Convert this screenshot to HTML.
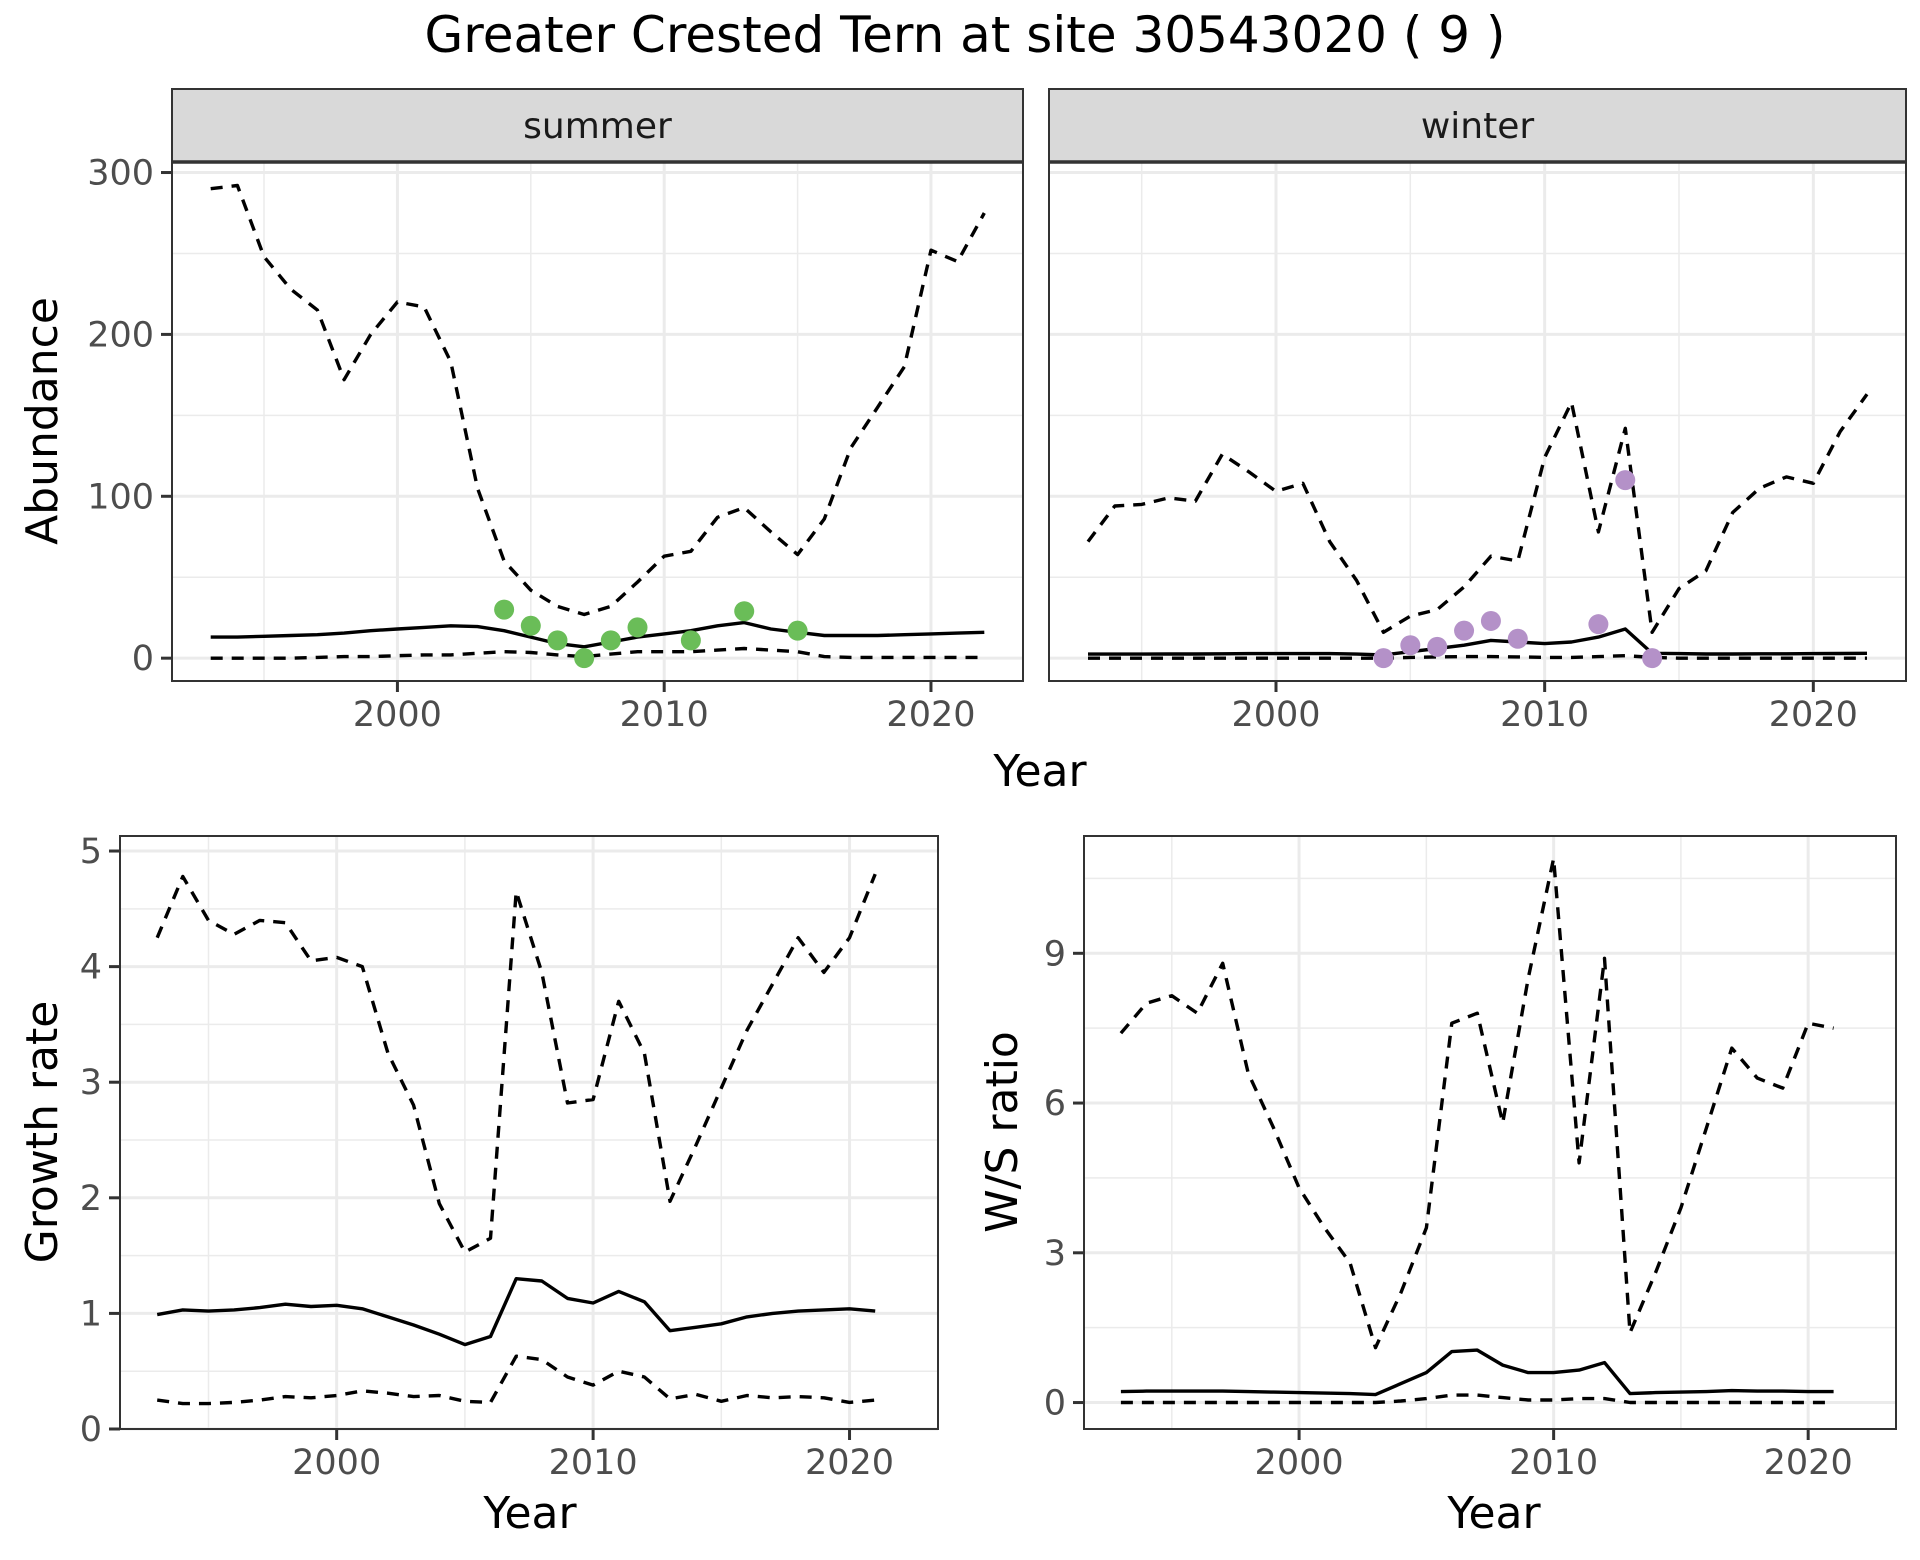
<!DOCTYPE html>
<html><head><meta charset="utf-8"><style>
body{margin:0;background:#fff;}
svg{display:block;font-family:"DejaVu Sans","Liberation Sans",sans-serif;}
</style></head><body>
<svg id="chart" width="1920" height="1560" viewBox="0 0 1920 1560" xmlns="http://www.w3.org/2000/svg">
<text x="965" y="52" font-size="50" text-anchor="middle" fill="#000">Greater Crested Tern at site 30543020 ( 9 )</text>
</svg>
<script>
const yearsA = [1993,1994,1995,1996,1997,1998,1999,2000,2001,2002,2003,2004,2005,2006,2007,2008,2009,2010,2011,2012,2013,2014,2015,2016,2017,2018,2019,2020,2021,2022];
const summerUpper = [290,292,248,228,215,172,200,220,217,183,105,60,42,32,27,32,47,63,66,87,93,78,64,86,130,155,180,252,245,275];
const summerMean = [13,13,13.5,14,14.5,15.5,17,18,19,20,19.5,17,13,9,7,10,13,15,17,20,22,18,16,14,14,14,14.5,15,15.5,16];
const summerLower = [0,0,0,0,0.5,1,1,1.5,2,2,3,4,3.5,2,1,2.5,4,4,4,5,6,5,4,1,0.5,0.5,0.5,0.5,0.5,0.5];
const summerObsYears = [2004,2005,2006,2007,2008,2009,2011,2013,2015];
const summerObs = [30,20,11,0,11,19,11,29,17];
const winterUpper = [72,94,95,99,97,126,115,103,108,72,48,16,26,30,44,63,60,124,158,78,142,16,43,54,90,105,112,108,140,163];
const winterMean = [2.5,2.5,2.5,2.6,2.6,2.7,2.8,2.8,2.8,2.8,2.5,2,4,6,8,11,10,9,10,13,18,3,2.8,2.6,2.6,2.7,2.7,2.8,2.9,3];
const winterLower = [0,0,0,0,0,0,0,0,0,0,0,0,0.5,0.8,1,1,0.8,0.5,0.5,1,1.5,0.5,0,0,0,0,0,0,0,0];
const winterObsYears = [2004,2005,2006,2007,2008,2009,2012,2013,2014];
const winterObs = [0,8,7,17,23,12,21,110,0];
const yearsB = [1993,1994,1995,1996,1997,1998,1999,2000,2001,2002,2003,2004,2005,2006,2007,2008,2009,2010,2011,2012,2013,2014,2015,2016,2017,2018,2019,2020,2021];
const growthUpper = [4.25,4.78,4.4,4.28,4.4,4.38,4.05,4.08,4.0,3.25,2.8,1.95,1.53,1.65,4.65,3.95,2.82,2.85,3.7,3.25,1.97,2.45,2.95,3.45,3.85,4.25,3.95,4.25,4.8];
const growthMean = [0.99,1.03,1.02,1.03,1.05,1.08,1.06,1.07,1.04,0.97,0.9,0.82,0.73,0.8,1.3,1.28,1.13,1.09,1.19,1.1,0.85,0.88,0.91,0.97,1.0,1.02,1.03,1.04,1.02];
const growthLower = [0.25,0.22,0.22,0.23,0.25,0.28,0.27,0.29,0.33,0.31,0.28,0.29,0.24,0.23,0.63,0.6,0.45,0.38,0.5,0.45,0.26,0.3,0.24,0.29,0.27,0.28,0.27,0.23,0.25];
const ratioUpper = [7.4,8.0,8.15,7.8,8.8,6.6,5.5,4.3,3.5,2.8,1.1,2.2,3.5,7.6,7.8,5.6,8.5,10.9,4.8,8.9,1.4,2.6,3.9,5.5,7.1,6.5,6.3,7.6,7.5];
const ratioMean = [0.22,0.23,0.23,0.23,0.23,0.22,0.21,0.2,0.19,0.18,0.16,0.38,0.6,1.02,1.05,0.75,0.6,0.6,0.65,0.8,0.18,0.2,0.21,0.22,0.24,0.23,0.23,0.22,0.22];
const ratioLower = [0,0,0,0,0,0,0,0,0,0,0,0.03,0.08,0.15,0.15,0.1,0.05,0.05,0.08,0.08,0,0,0,0,0,0,0,0,0];
const xTicks = [2000,2010,2020];
const abundTicks = [0,100,200,300];
const growthTicks = [0,1,2,3,4,5];
const ratioTicks = [0,3,6,9];

const NS="http://www.w3.org/2000/svg";
const svg=document.getElementById('chart');
function mk(tag,attrs,parent){const e=document.createElementNS(NS,tag);for(const k in attrs)e.setAttribute(k,attrs[k]);(parent||svg).appendChild(e);return e;}

function panel(cfg){
  const {L,R,T,B,x0,x1,y0,y1,xMinor,yMinor,xMaj,yMaj,name,showY}=cfg;
  const sx=v=>L+(v-x0)/(x1-x0)*(R-L);
  const sy=v=>B-(v-y0)/(y1-y0)*(B-T);
  const g=mk('g',{});
  
  
  const cid='clip-'+name;
  const cp=mk('clipPath',{id:cid},g);mk('rect',{x:L,y:T,width:R-L,height:B-T},cp);
  xMinor.forEach(v=>{const l=mk('line',{x1:sx(v),x2:sx(v),y1:T,y2:B,stroke:'#EBEBEB','stroke-width':1.5},g);});
  yMinor.forEach(v=>{const l=mk('line',{x1:L,x2:R,y1:sy(v),y2:sy(v),stroke:'#EBEBEB','stroke-width':1.5},g);});
  xMaj.forEach(v=>{const l=mk('line',{x1:sx(v),x2:sx(v),y1:T,y2:B,stroke:'#EBEBEB','stroke-width':3},g);});
  yMaj.forEach(v=>{const l=mk('line',{x1:L,x2:R,y1:sy(v),y2:sy(v),stroke:'#EBEBEB','stroke-width':3},g);});
  const dg=mk('g',{'clip-path':'url(#'+cid+')'},g);
  cfg.series.forEach(s=>{
    const d=s.xs.map((x,i)=>(i?'L':'M')+sx(x).toFixed(1)+' '+sy(s.ys[i]).toFixed(1)).join(' ');
    const p=mk('path',{d:d,fill:'none',stroke:'#000','stroke-width':3.4,'stroke-dasharray':s.dash?'12 9':'none','stroke-linejoin':'round'},dg);
    
    
  });
  if(cfg.points){cfg.points.xs.forEach((x,i)=>{
    const c=mk('circle',{cx:sx(x),cy:sy(cfg.points.ys[i]),r:10,fill:cfg.points.color},dg);
    
    
  });}
  const bd=mk('rect',{x:L,y:T,width:R-L,height:B-T,fill:'none',stroke:'#333','stroke-width':2},g);
  
  xMaj.forEach(v=>{
    mk('line',{x1:sx(v),x2:sx(v),y1:B,y2:B+11,stroke:'#333','stroke-width':3},g);
    const t=mk('text',{x:sx(v),y:B+45,'font-size':35,'text-anchor':'middle',fill:'#4D4D4D'},g);t.textContent=v;
    
  });
  if(showY){yMaj.forEach(v=>{
    mk('line',{x1:L-11,x2:L,y1:sy(v),y2:sy(v),stroke:'#333','stroke-width':3},g);
    const t=mk('text',{x:L-18,y:sy(v)+12,'font-size':35,'text-anchor':'end',fill:'#4D4D4D'},g);t.textContent=v;
    
  });}
  if(cfg.strip){
    const sr=mk('rect',{x:L,y:89,width:R-L,height:T-89,fill:'#D9D9D9',stroke:'#333','stroke-width':2},g);
    
    mk('line',{x1:L,x2:R,y1:T,y2:T,stroke:'#333','stroke-width':3.5},g);
    const st=mk('text',{x:(L+R)/2,y:138,'font-size':36,'text-anchor':'middle',fill:'#1A1A1A'},g);st.textContent=cfg.strip;
    
  }
}
function label(txt,x,y,rot,name){
  const t=mk('text',{x:x,y:y,'font-size':44,'text-anchor':'middle',fill:'#000',transform:rot?`rotate(-90 ${x} ${y})`:''});
  t.textContent=txt;
}
const xMinorA=[1995,2005,2015];
panel({name:'summer',strip:'summer',L:172,R:1023,T:162,B:681,x0:1991.55,x1:2023.45,y0:-14.1,y1:306.5,
  xMaj:xTicks,xMinor:xMinorA,yMaj:abundTicks,yMinor:[50,150,250],showY:true,
  series:[{xs:yearsA,ys:summerUpper,dash:true,name:'summer-upper-ci'},{xs:yearsA,ys:summerMean,dash:false,name:'summer-mean'},{xs:yearsA,ys:summerLower,dash:true,name:'summer-lower-ci'}],
  points:{xs:summerObsYears,ys:summerObs,color:'#6ABD58'}});
panel({name:'winter',strip:'winter',L:1049,R:1906,T:162,B:681,x0:1991.55,x1:2023.45,y0:-14.1,y1:306.5,
  xMaj:xTicks,xMinor:xMinorA,yMaj:abundTicks,yMinor:[50,150,250],showY:false,
  series:[{xs:yearsA,ys:winterUpper,dash:true,name:'winter-upper-ci'},{xs:yearsA,ys:winterMean,dash:false,name:'winter-mean'},{xs:yearsA,ys:winterLower,dash:true,name:'winter-lower-ci'}],
  points:{xs:winterObsYears,ys:winterObs,color:'#B491C8'}});
panel({name:'growth',L:120,R:938,T:836,B:1429,x0:1991.55,x1:2023.45,y0:0,y1:5.13,
  xMaj:xTicks,xMinor:xMinorA,yMaj:growthTicks,yMinor:[0.5,1.5,2.5,3.5,4.5],showY:true,
  series:[{xs:yearsB,ys:growthUpper,dash:true,name:'growth-upper-ci'},{xs:yearsB,ys:growthMean,dash:false,name:'growth-mean'},{xs:yearsB,ys:growthLower,dash:true,name:'growth-lower-ci'}]});
panel({name:'ratio',L:1084,R:1896,T:836,B:1429,x0:1991.55,x1:2023.45,y0:-0.53,y1:11.35,
  xMaj:xTicks,xMinor:xMinorA,yMaj:ratioTicks,yMinor:[1.5,4.5,7.5,10.5],showY:true,
  series:[{xs:yearsB,ys:ratioUpper,dash:true,name:'ratio-upper-ci'},{xs:yearsB,ys:ratioMean,dash:false,name:'ratio-mean'},{xs:yearsB,ys:ratioLower,dash:true,name:'ratio-lower-ci'}]});
label('Year',1040,786,false,'top-x-axis-title');
label('Abundance',57,421,true,'abundance-y-axis-title');
label('Year',530,1528,false,'growth-x-axis-title');
label('Growth rate',57,1132,true,'growth-y-axis-title');
label('Year',1494,1528,false,'ratio-x-axis-title');
label('W/S ratio',1017,1132,true,'ratio-y-axis-title');
</script>
</body></html>
